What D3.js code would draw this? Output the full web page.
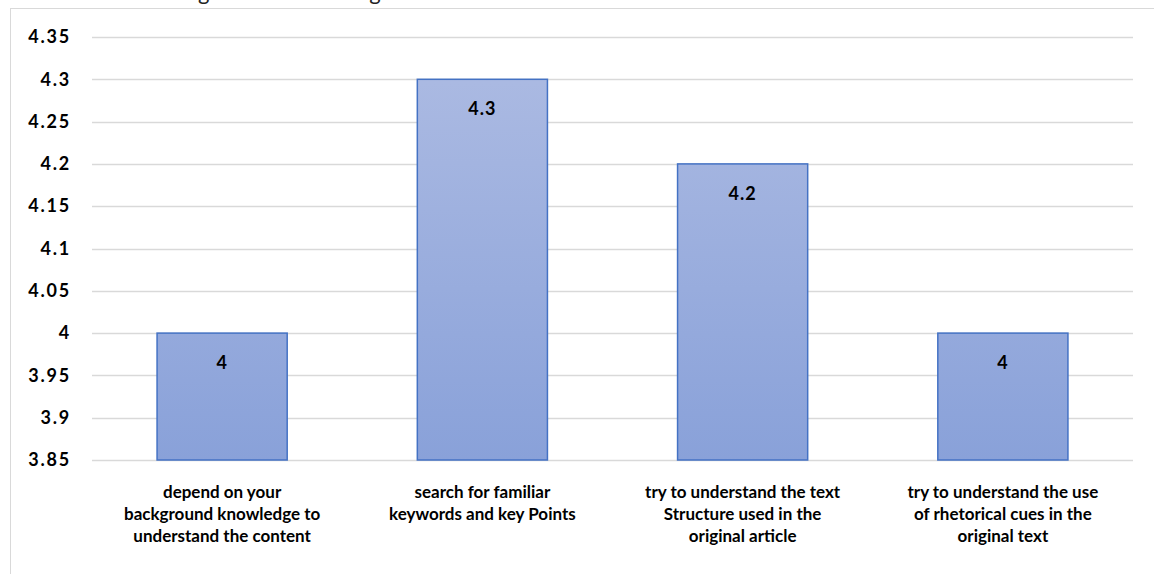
<!DOCTYPE html>
<html>
<head>
<meta charset="utf-8">
<script src="https://cdn.jsdelivr.net/npm/d3@7"></script>
<style>
  html, body { margin: 0; padding: 0; background: #fff; }
  svg { display: block; }
  text { font-family: Lato, "Open Sans", sans-serif; }
</style>
</head>
<body>
<svg id="chart" width="1154" height="574"></svg>
<script>
// Mean agreement for each reading strategy
const categories = [
  ["depend on your", "background knowledge to", "understand the content"],
  ["search for familiar", "keywords and key Points"],
  ["try to understand the text", "Structure used in the", "original article"],
  ["try to understand the use", "of rhetorical cues in the", "original text"]
];
const values = [4, 4.3, 4.2, 4];
const yTicks = [3.85, 3.9, 3.95, 4, 4.05, 4.1, 4.15, 4.2, 4.25, 4.3, 4.35];
const titleText = "Strategies While Reading Scientific Texts";

const svg = d3.select("#chart");
const W = 1154, H = 574;
const margin = { left: 92, right: 21, top: 37, bottom: 114 };

// Chart frame
svg.append("rect")
  .attr("x", 10.5).attr("y", 8.5)
  .attr("width", W + 10).attr("height", H + 10)
  .attr("fill", "#fff").attr("stroke", "#d9d9d9").attr("stroke-width", 1);

// Title sits above the visible area; only its descenders show
svg.append("text")
  .attr("x", 335).attr("y", 0)
  .attr("text-anchor", "middle")
  .attr("font-size", 22)
  .attr("fill", "#222")
  .text(titleText);

const x = d3.scaleBand()
  .domain(d3.range(categories.length))
  .range([margin.left, W - margin.right])
  .paddingInner(0.5).paddingOuter(0.25);

const y = d3.scaleLinear()
  .domain([3.85, 4.35])
  .range([H - margin.bottom, margin.top]);

// Gridlines
svg.append("g")
  .selectAll("line")
  .data(yTicks)
  .join("line")
  .attr("x1", margin.left).attr("x2", W - margin.right)
  .attr("y1", d => Math.round(y(d)) + 0.5).attr("y2", d => Math.round(y(d)) + 0.5)
  .attr("stroke", "#d9d9d9").attr("stroke-width", 1.3);

// Y axis labels
const yAxis = d3.axisLeft(y).tickValues(yTicks).tickSize(0).tickPadding(0)
  .tickFormat(d => String(+d.toFixed(2)));
const gy = svg.append("g").attr("transform", `translate(${margin.left - 21},0)`).call(yAxis);
gy.select(".domain").remove();
gy.selectAll("text")
  .attr("font-family", "Lato, 'Open Sans', sans-serif")
  .attr("font-size", 18).attr("font-weight", "bold").attr("fill", "#000")
  .attr("letter-spacing", 1.8);

// Bar gradient
const defs = svg.append("defs");
const grad = defs.append("linearGradient").attr("id", "barFill")
  .attr("gradientUnits", "userSpaceOnUse")
  .attr("x1", 0).attr("x2", 0)
  .attr("y1", y(4.35)).attr("y2", y(3.85));
grad.append("stop").attr("offset", "0%").attr("stop-color", "#aebce3");
grad.append("stop").attr("offset", "100%").attr("stop-color", "#89a1d9");

// Bars
svg.append("g")
  .selectAll("rect")
  .data(values)
  .join("rect")
  .attr("x", (d, i) => x(i))
  .attr("y", d => y(d))
  .attr("width", x.bandwidth())
  .attr("height", d => y(3.85) - y(d))
  .attr("fill", "url(#barFill)")
  .attr("stroke", "#4472c4").attr("stroke-width", 1.5);

// Value labels inside bar tops
svg.append("g")
  .selectAll("text")
  .data(values)
  .join("text")
  .attr("x", (d, i) => x(i) + x.bandwidth() / 2)
  .attr("y", d => y(d) + 36)
  .attr("text-anchor", "middle")
  .attr("font-size", 18).attr("font-weight", "bold").attr("fill", "#000")
  .attr("letter-spacing", 1)
  .text(d => String(d));

// Category labels
const cat = svg.append("g")
  .selectAll("text")
  .data(categories)
  .join("text")
  .attr("text-anchor", "middle")
  .attr("font-size", 17).attr("font-weight", "bold").attr("fill", "#000")
  .attr("transform", (d, i) => `translate(${x(i) + x.bandwidth() / 2},${y(3.85) + 38})`);
cat.selectAll("tspan")
  .data(d => d)
  .join("tspan")
  .attr("x", 0)
  .attr("y", (d, j) => j * 22)
  .text(d => d);
</script>
</body>
</html>
